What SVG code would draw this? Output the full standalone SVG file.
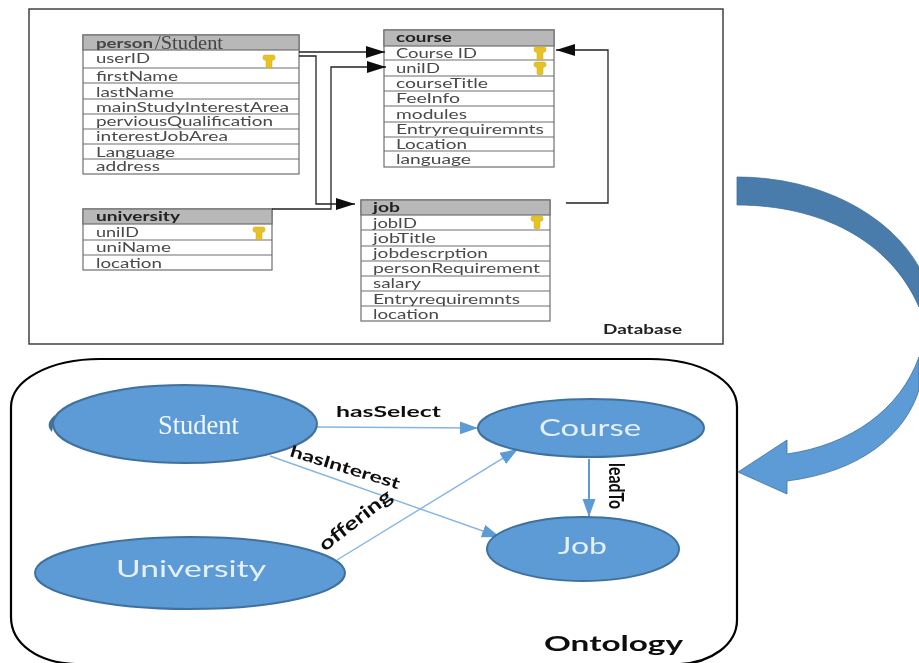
<svg xmlns="http://www.w3.org/2000/svg" width="919" height="663" viewBox="0 0 919 663">
<style>
text{font-family:Lato,"Liberation Sans",Arial,sans-serif;}
.t{font-size:12.5px;fill:#4a4a4a;}
.h{font-size:12.5px;font-weight:bold;fill:#222;}
.hd{fill:#b8b8b8;stroke:#6e6e6e;stroke-width:1.2;}
.box{fill:#fff;stroke:#6e6e6e;stroke-width:1.2;}
.row{stroke:#6e6e6e;stroke-width:1.2;fill:none;}
.c{fill:none;stroke:#222;stroke-width:1.3;}
.r{fill:none;stroke:#85b5e2;stroke-width:1.4;}
.e{fill:#5b9bd5;stroke:#41719c;stroke-width:2;}
.lbl{font-weight:bold;fill:#111;font-size:16px;}
.w{fill:#e6f0fa;font-size:23px;}
</style>
<defs>
<filter id="soft" x="0" y="0" width="919" height="663" filterUnits="userSpaceOnUse"><feGaussianBlur stdDeviation="0.45"/></filter>
<marker id="ba" markerUnits="userSpaceOnUse" markerWidth="20" markerHeight="14" refX="19" refY="6" orient="auto"><path d="M0,0L19,6L0,12Z" fill="#111"/></marker>
<marker id="ra" markerUnits="userSpaceOnUse" markerWidth="20" markerHeight="14" refX="18" refY="6.5" orient="auto"><path d="M0,0L18,6.5L0,13Z" fill="#5b9bd5"/></marker>
<g id="key"><path d="M-6,-4Q-6,-6 -4,-6H4Q6,-6 6,-4V-2.500Q6,-1 3,-0.500V6Q0,8 -3,6V-0.500Q-6,-1 -6,-2.500Z" fill="#e6c324" stroke="#c9a92a" stroke-width=".5"/></g>
</defs>
<g filter="url(#soft)">
<rect id="canvas" x="0" y="0" width="919" height="663" fill="#fff"/>
<rect x="29" y="9" width="694" height="335" fill="#fff" stroke="#333" stroke-width="1.4" id="database-frame"/>
<path id="ontology-frame" d="M100,359H650C700,359 737,380 737,407V620C737,645 710,663 680,664H75C40,663 11,645 11,617V407C11,380 50,359 100,359Z" fill="#fff" stroke="#000" stroke-width="2.200"/>

<g id="person">
<rect class="box" x="83" y="35" width="216" height="139"/><rect class="hd" x="83" y="35" width="216" height="15"/>
<path class="row" d="M83,68H299M83,83H299M83,99H299M83,114H299M83,129H299M83,144H299M83,159H299"/>
<text class="h" x="96" y="48" textLength="57" lengthAdjust="spacingAndGlyphs" style="fill:#444">person</text>
<text x="155" y="49" textLength="68" lengthAdjust="spacingAndGlyphs" style="font-family:'Liberation Serif',serif;font-size:19px;fill:#444">/Student</text>
<text class="t" x="96" y="63" textLength="54" lengthAdjust="spacingAndGlyphs">userID</text>
<text class="t" x="96" y="81" textLength="82" lengthAdjust="spacingAndGlyphs">firstName</text>
<text class="t" x="96" y="96.500" textLength="78" lengthAdjust="spacingAndGlyphs">lastName</text>
<text class="t" x="96" y="111.500" textLength="193" lengthAdjust="spacingAndGlyphs">mainStudyInterestArea</text>
<text class="t" x="96" y="126" textLength="177" lengthAdjust="spacingAndGlyphs">perviousQualification</text>
<text class="t" x="96" y="141" textLength="132" lengthAdjust="spacingAndGlyphs">interestJobArea</text>
<text class="t" x="96" y="156.500" textLength="79" lengthAdjust="spacingAndGlyphs">Language</text>
<text class="t" x="96" y="171" textLength="64" lengthAdjust="spacingAndGlyphs">address</text>
<use href="#key" x="269" y="61"/>
</g>

<g id="university">
<rect class="box" x="83" y="209" width="189" height="61"/><rect class="hd" x="83" y="209" width="189" height="15"/>
<path class="row" d="M83,240H272M83,255H272"/>
<text class="h" x="96" y="221" textLength="84" lengthAdjust="spacingAndGlyphs">university</text>
<text class="t" x="96" y="236.500" textLength="43" lengthAdjust="spacingAndGlyphs">uniID</text>
<text class="t" x="96" y="252" textLength="75" lengthAdjust="spacingAndGlyphs">uniName</text>
<text class="t" x="96" y="267.500" textLength="66" lengthAdjust="spacingAndGlyphs">location</text>
<use href="#key" x="259" y="233"/>
</g>

<g id="course">
<rect class="box" x="384" y="30" width="170" height="137"/><rect class="hd" x="384" y="30" width="170" height="16"/>
<path class="row" d="M384,60H554M384,76H554M384,91H554M384,106H554M384,122H554M384,137H554M384,151H554"/>
<text class="h" x="396" y="42" textLength="56" lengthAdjust="spacingAndGlyphs">course</text>
<text class="t" x="396" y="57.500" textLength="81" lengthAdjust="spacingAndGlyphs">Course ID</text>
<text class="t" x="396" y="72.500" textLength="44" lengthAdjust="spacingAndGlyphs">uniID</text>
<text class="t" x="396" y="88" textLength="92" lengthAdjust="spacingAndGlyphs">courseTitle</text>
<text class="t" x="396" y="103" textLength="64" lengthAdjust="spacingAndGlyphs">FeeInfo</text>
<text class="t" x="396" y="118.500" textLength="71" lengthAdjust="spacingAndGlyphs">modules</text>
<text class="t" x="396" y="133.500" textLength="148" lengthAdjust="spacingAndGlyphs">Entryrequiremnts</text>
<text class="t" x="396" y="148.500" textLength="71" lengthAdjust="spacingAndGlyphs">Location</text>
<text class="t" x="396" y="163.500" textLength="75" lengthAdjust="spacingAndGlyphs">language</text>
<use href="#key" x="540" y="53"/>
<use href="#key" x="540" y="68"/>
</g>

<g id="job">
<rect class="box" x="361" y="200" width="189" height="121"/><rect class="hd" x="361" y="200" width="189" height="15"/>
<path class="row" d="M361,230H550M361,246H550M361,261H550M361,276H550M361,291H550M361,306H550"/>
<text class="h" x="373" y="212" textLength="27" lengthAdjust="spacingAndGlyphs">job</text>
<text class="t" x="373" y="227.500" textLength="44" lengthAdjust="spacingAndGlyphs">jobID</text>
<text class="t" x="373" y="242.500" textLength="63" lengthAdjust="spacingAndGlyphs">jobTitle</text>
<text class="t" x="373" y="257.500" textLength="115" lengthAdjust="spacingAndGlyphs">jobdescrption</text>
<text class="t" x="373" y="272.500" textLength="167" lengthAdjust="spacingAndGlyphs">personRequirement</text>
<text class="t" x="373" y="288" textLength="48" lengthAdjust="spacingAndGlyphs">salary</text>
<text class="t" x="373" y="303.500" textLength="147" lengthAdjust="spacingAndGlyphs">Entryrequiremnts</text>
<text class="t" x="373" y="318.500" textLength="66" lengthAdjust="spacingAndGlyphs">location</text>
<use href="#key" x="537" y="222"/>
</g>

<text id="database-label" x="603" y="334" textLength="79" lengthAdjust="spacingAndGlyphs" style="font-size:13px;font-weight:bold;fill:#222">Database</text>

<g id="connectors">
<path class="c" d="M299,52H385" marker-end="url(#ba)"/>
<path class="c" d="M299,56H316V204H355" marker-end="url(#ba)"/>
<path class="c" d="M272,209H331V67H386" marker-end="url(#ba)"/>
<path class="c" d="M566,203H608V50H556" marker-end="url(#ba)"/>
<path class="r" d="M317,427L478,428" marker-end="url(#ra)"/>
<path class="r" d="M270,456L500,537" marker-end="url(#ra)"/>
<path class="r" d="M337,560L518,449" marker-end="url(#ra)"/>
<path class="r" style="stroke:#5b9bd5;stroke-width:2" d="M589,459V517" marker-end="url(#ra)"/>
</g>

<g id="student">
<path d="M55,415Q44,424 52,432Z" fill="#41719c"/>
<ellipse class="e" cx="185" cy="424" rx="132" ry="39"/>
<text x="158" y="434" textLength="81" lengthAdjust="spacingAndGlyphs" style="font-family:'Liberation Serif',serif;font-size:27px;fill:#f4f8fc">Student</text>
</g>
<g id="university-concept">
<ellipse class="e" cx="190" cy="573" rx="155" ry="36"/>
<text class="w" x="116" y="577" textLength="150" lengthAdjust="spacingAndGlyphs">University</text>
</g>
<g id="course-concept">
<ellipse class="e" cx="591" cy="428" rx="113" ry="29"/>
<text class="w" x="539" y="436" textLength="102" lengthAdjust="spacingAndGlyphs">Course</text>
</g>
<g id="job-concept">
<ellipse class="e" cx="583" cy="549" rx="96" ry="32"/>
<text class="w" x="558" y="554" textLength="49" lengthAdjust="spacingAndGlyphs">Job</text>
</g>

<text class="lbl" x="336" y="417" textLength="105" lengthAdjust="spacingAndGlyphs">hasSelect</text>
<text class="lbl" transform="translate(289,456) rotate(17)" textLength="114" lengthAdjust="spacingAndGlyphs">hasInterest</text>
<text class="lbl" transform="translate(325,552) rotate(-38)" textLength="87" lengthAdjust="spacingAndGlyphs" style="font-size:19px">offering</text>
<text class="lbl" transform="translate(609,463) rotate(90)" textLength="46" lengthAdjust="spacingAndGlyphs" style="font-size:21px">leadTo</text>
<text id="ontology-label" x="544" y="651" textLength="139" lengthAdjust="spacingAndGlyphs" style="font-size:21px;font-weight:bold;fill:#111">Ontology</text>

<g id="curved-arrow">
<path d="M737,177C820,177 890,215 919,267V307C890,240 820,205 737,205Z" fill="#4a7bab" stroke="#41719c" stroke-width=".8"/>
<path d="M919,357C900,410 850,445 787,454V440L738,472L787,494V481C860,472 905,435 919,390Z" fill="#5b9bd5" stroke="#41719c" stroke-width=".8"/>
</g>
</g>
</svg>
